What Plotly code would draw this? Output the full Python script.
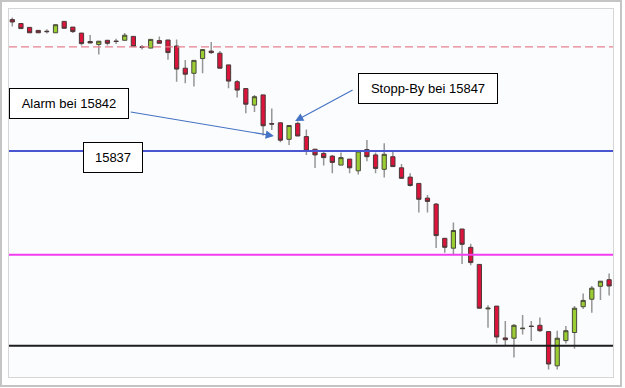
import plotly.graph_objects as go

# ---------------- data ----------------
open_ = [15880.8, 15879.5, 15878.2, 15877.2, 15876.9, 15876.4, 15880.2, 15878.3, 15876.3, 15873.5,
         15872.5, 15873.9, 15873.6, 15873.9, 15875.2, 15871.7, 15871.3, 15873.8, 15874.0, 15872.0,
         15864.6, 15862.9, 15867.8, 15870.3, 15869.6, 15865.7, 15860.1, 15857.8, 15852.3, 15855.7,
         15846.1, 15846.4, 15840.9, 15846.2, 15841.8, 15837.6, 15836.2, 15835.3, 15832.3, 15834.3,
         15830.4, 15837.5, 15835.7, 15830.9, 15835.1, 15831.4, 15828.3, 15826.2, 15821.3, 15819.3,
         15807.9, 15804.6, 15811.0, 15804.9, 15799.2, 15784.4, 15785.3, 15774.7, 15774.6, 15777.8,
         15778.6, 15778.9, 15776.8, 15765.4, 15773.8, 15776.5, 15785.1, 15787.6, 15791.9, 15794.1]
high = [15881.5, 15879.5, 15878.2, 15877.2, 15877.6, 15879.1, 15880.2, 15878.3, 15876.3, 15875.7,
        15873.6, 15873.9, 15874.4, 15876.3, 15875.2, 15872.3, 15874.2, 15875.2, 15874.0, 15874.2,
        15867.3, 15867.2, 15870.9, 15873.3, 15870.3, 15865.7, 15860.7, 15857.8, 15855.7, 15855.7,
        15851.2, 15846.4, 15845.7, 15846.8, 15844.2, 15837.6, 15836.8, 15835.7, 15836.5, 15834.3,
        15837.0, 15840.7, 15836.5, 15839.6, 15837.3, 15832.7, 15829.6, 15826.2, 15822.3, 15819.7,
        15808.0, 15813.2, 15811.0, 15806.1, 15799.2, 15785.6, 15785.3, 15780.3, 15779.3, 15782.3,
        15780.3, 15781.5, 15776.8, 15777.1, 15778.7, 15785.3, 15789.5, 15792.0, 15793.6, 15796.2]
low = [15878.5, 15877.8, 15876.4, 15876.4, 15876.2, 15876.4, 15877.9, 15876.3, 15872.2, 15873.0,
       15869.2, 15872.2, 15872.7, 15873.9, 15871.8, 15870.8, 15871.3, 15872.9, 15867.4, 15860.1,
       15859.6, 15858.5, 15862.9, 15869.3, 15864.6, 15857.9, 15854.8, 15849.6, 15850.0, 15842.2,
       15844.0, 15839.9, 15839.0, 15842.0, 15835.7, 15831.3, 15832.2, 15829.6, 15832.3, 15829.6,
       15829.2, 15833.6, 15829.6, 15828.2, 15831.7, 15827.9, 15825.2, 15816.5, 15816.5, 15804.7,
       15803.1, 15802.6, 15799.3, 15798.9, 15784.6, 15778.1, 15772.9, 15772.3, 15768.2, 15775.8,
       15773.7, 15776.7, 15764.2, 15764.2, 15772.8, 15771.1, 15784.3, 15783.1, 15787.3, 15788.8]
close = [15880.0, 15877.8, 15876.4, 15876.4, 15876.8, 15879.1, 15877.9, 15876.8, 15872.8, 15873.0,
         15873.6, 15872.9, 15873.5, 15875.6, 15871.8, 15871.6, 15874.2, 15872.9, 15869.8, 15864.3,
         15862.6, 15867.2, 15870.8, 15869.8, 15864.6, 15860.3, 15857.3, 15852.6, 15855.1, 15845.4,
         15846.0, 15840.6, 15845.5, 15842.0, 15837.0, 15835.7, 15834.8, 15833.2, 15834.8, 15831.4,
         15837.0, 15835.1, 15831.2, 15835.9, 15831.8, 15827.9, 15825.5, 15820.9, 15820.2, 15808.8,
         15804.9, 15810.5, 15805.9, 15799.8, 15784.6, 15784.6, 15775.0, 15774.1, 15778.9, 15777.9,
         15778.5, 15777.1, 15766.0, 15774.6, 15777.1, 15784.6, 15787.2, 15791.3, 15793.6, 15792.0]
idx = list(range(len(open_)))

# horizontal levels
level_values = [15871.7, 15837.0, 15802.4, 15772.1]

# annotation texts / levels
alarm_level = 15842
stop_level = 15847
level_label = "15837"
alarm_text = "Alarm bei 15842"
stop_text = "Stopp-By bei 15847"

# ---------------- figure ----------------
mid = [(o + c) / 2 for o, c in zip(open_, close)]
body_hi = [max(o, c) for o, c in zip(open_, close)]
body_lo = [min(o, c) for o, c in zip(open_, close)]

fig = go.Figure()
# wicks (gray)
fig.add_trace(go.Candlestick(
    x=idx, open=mid, high=high, low=low, close=mid,
    increasing=dict(line=dict(color="#969696", width=1.5), fillcolor="#969696"),
    decreasing=dict(line=dict(color="#969696", width=1.5), fillcolor="#969696"),
    whiskerwidth=0, showlegend=False, hoverinfo="skip"))
# bodies
fig.add_trace(go.Candlestick(
    x=idx, open=open_, high=body_hi, low=body_lo, close=close,
    increasing=dict(line=dict(color="#4a4a3a", width=1), fillcolor="#9ACD32"),
    decreasing=dict(line=dict(color="#4a3a3a", width=1), fillcolor="#DC143C"),
    whiskerwidth=0, showlegend=False, hoverinfo="skip"))

W, H = 625, 388
ml, mr, mt, mb = 9, 12, 9, 11
pw, ph = W - ml - mr, H - mt - mb

def px_x(p):
    return (p - ml) / pw

def px_y(p):
    return (H - mb - p) / ph

shapes = []
styles = [dict(color="#E8808E", width=1.2, dash="8px,4px"),
          dict(color="#4A55D0", width=2),
          dict(color="#F23CF0", width=2),
          dict(color="#1E1E1E", width=2)]
for v, st in zip(level_values, styles):
    shapes.append(dict(type="line", xref="paper", yref="y", x0=0, x1=1, y0=v, y1=v,
                       line=st, layer="above"))
# outer frame
shapes.append(dict(type="rect", xref="paper", yref="paper",
                   x0=px_x(1), x1=px_x(621), y0=px_y(386), y1=px_y(1),
                   line=dict(color="#C4C4C4", width=2), fillcolor="rgba(0,0,0,0)"))

font = dict(family="Liberation Sans, Arial, sans-serif", size=13, color="#000000")
annotations = []

def box(text, left, top, w, h):
    annotations.append(dict(
        text=text, xref="paper", yref="paper", x=px_x(left), y=px_y(top),
        xanchor="left", yanchor="top", showarrow=False, width=w, height=h,
        bgcolor="#FFFFFF", bordercolor="#000000", borderwidth=1, borderpad=0,
        font=font, align="center", valign="middle"))

box(alarm_text, 9.3, 88.3, 118, 29)
box(stop_text, 358.3, 73.3, 138, 29)
box(level_label, 82.7, 142.3, 58, 29)

arrow = dict(text="", showarrow=True, arrowhead=2, arrowsize=1.5, arrowwidth=1.1,
             arrowcolor="#4472C4", xref="x", yref="y", axref="pixel", ayref="pixel")
annotations.append(dict(arrow, x=30.25, y=alarm_level, ax=-144.7, ay=-24.3))
annotations.append(dict(arrow, x=32.7, y=stop_level, ax=59, ay=-31.7))

fig.update_layout(
    width=W, height=H, autosize=False,
    margin=dict(l=ml, r=mr, t=mt, b=mb, pad=0),
    paper_bgcolor="#FFFFFF", plot_bgcolor="#FBFCFE",
    shapes=shapes, annotations=annotations,
    xaxis=dict(range=[-0.38, 69.45], showticklabels=False, showgrid=False, zeroline=False,
               ticks="", showline=True, mirror=True, linecolor="#D6D6D6", linewidth=1,
               rangeslider=dict(visible=False), fixedrange=True),
    yaxis=dict(range=[15761.67, 15884.33], showticklabels=False, showgrid=False, zeroline=False,
               ticks="", showline=True, mirror=True, linecolor="#D6D6D6", linewidth=1,
               fixedrange=True),
)

fig.write_html("out.html", config=dict(displayModeBar=False),
               post_script="document.body.style.margin='0';document.body.style.overflow='hidden';")
